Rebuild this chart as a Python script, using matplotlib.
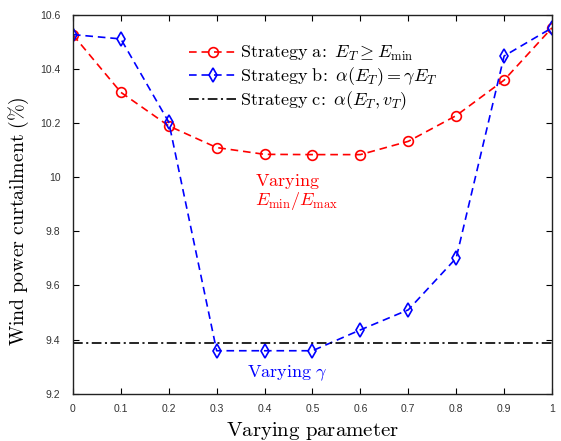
import matplotlib
matplotlib.use("Agg")
import matplotlib.pyplot as plt
import numpy as np

plt.rcParams["mathtext.fontset"] = "cm"
plt.rcParams["font.family"] = "serif"
plt.rcParams["font.serif"] = ["DejaVu Serif"]
plt.rcParams["lines.scale_dashes"] = False

param = [0.0, 0.1, 0.2, 0.3, 0.4, 0.5, 0.6, 0.7, 0.8, 0.9, 1.0]
strategy_a = [10.525, 10.313, 10.189, 10.109, 10.084, 10.083, 10.083, 10.132, 10.227, 10.358, 10.551]
strategy_b = [10.526, 10.510, 10.203, 9.359, 9.359, 9.359, 9.436, 9.510, 9.701, 10.447, 10.551]
strategy_c = 9.386

xticks = [0, 0.1, 0.2, 0.3, 0.4, 0.5, 0.6, 0.7, 0.8, 0.9, 1]
xtick_labels = ["0", "0.1", "0.2", "0.3", "0.4", "0.5", "0.6", "0.7", "0.8", "0.9", "1"]
yticks = [9.2, 9.4, 9.6, 9.8, 10.0, 10.2, 10.4, 10.6]
ytick_labels = ["9.2", "9.4", "9.6", "9.8", "10", "10.2", "10.4", "10.6"]

fig = plt.figure(figsize=(5.61, 4.41), dpi=100)
ax = fig.add_axes([0.130, 0.107, 0.854, 0.860])

dash = (0, (5.5, 3.5))
ax.plot(param, strategy_a, color="red", linestyle=dash, linewidth=1.2,
        marker="o", markersize=7, markerfacecolor="none", markeredgewidth=1.2,
        label=r"$\mathrm{Strategy\ a\!:}\ E_T \geq E_{\min}$")
ax.plot(param, strategy_b, color="blue", linestyle=dash, linewidth=1.2,
        marker="d", markersize=7.5, markerfacecolor="none", markeredgewidth=1.2,
        label=r"$\mathrm{Strategy\ b\!:}\ \alpha(E_T) = \gamma E_T$")
ax.axhline(strategy_c, color="black", linestyle=(0, (7, 2.5, 1.5, 2.5)), linewidth=1.2,
           label=r"$\mathrm{Strategy\ c\!:}\ \alpha(E_T, v_T)$")

ax.text(0.38, 9.985, r"$\mathrm{Varying}$", color="red", fontsize=13, va="center", ha="left")
ax.text(0.38, 9.91, r"$E_{\min}/E_{\max}$", color="red", fontsize=13, va="center", ha="left")
ax.text(0.363, 9.277, r"$\mathrm{Varying}\ \gamma$", color="blue", fontsize=13, va="center", ha="left")

ax.set_xlim(0, 1)
ax.set_ylim(9.2, 10.6)
ax.set_xticks(xticks)
ax.set_xticklabels(xtick_labels, family="Liberation Sans", fontsize=7.5, color="#333333")
ax.set_yticks(yticks)
ax.set_yticklabels(ytick_labels, family="Liberation Sans", fontsize=7.5, color="#333333")
ax.tick_params(direction="in", top=True, right=True, length=4, width=0.8)
ax.tick_params(axis="x", pad=7)
ax.tick_params(axis="y", pad=9)
for s in ax.spines.values():
    s.set_linewidth(1.0)
    s.set_color("#222222")

ax.set_xlabel(r"$\mathrm{Varying\ parameter}$", fontsize=15, labelpad=5)
ax.set_ylabel(r"$\mathrm{Wind\ power\ curtailment\ (\%)}$", fontsize=14.3)
ax.yaxis.set_label_coords(-0.088, 0.455)

ax.legend(loc="upper left", bbox_to_anchor=(0.22, 0.95), frameon=False, fontsize=13,
          handlelength=2.6, handletextpad=0.2, labelspacing=0.1, borderaxespad=0.2)

fig.savefig("out.png", dpi=100)
